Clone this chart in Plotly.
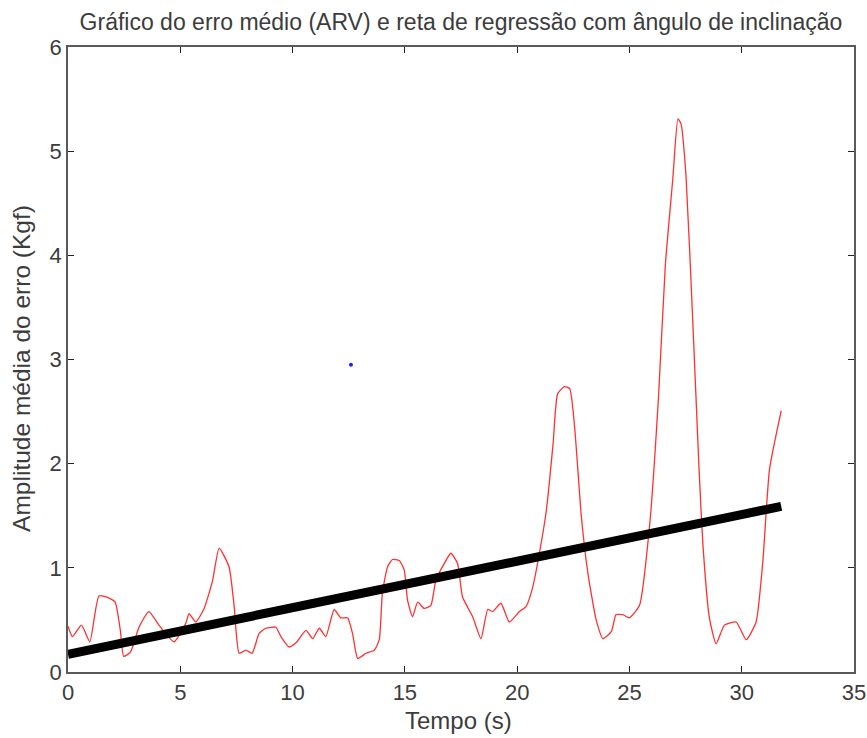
import plotly.graph_objects as go

# Mean error (ARV) over time, seconds vs Kgf
tempo = [0.0, 0.2, 0.6, 0.97, 1.38, 1.83, 2.1, 2.33, 2.48, 2.78, 3.16, 3.6, 4.05, 4.72,
         5.25, 5.39, 5.69, 6.06, 6.43, 6.73, 7.17, 7.40, 7.62, 7.92, 8.2, 8.51, 8.81,
         9.25, 9.48, 9.85, 10.15, 10.6, 10.89, 11.19, 11.48, 11.85, 12.15, 12.45, 12.67,
         12.9, 13.27, 13.64, 13.86, 14.0, 14.23, 14.45, 14.75, 14.97, 15.12, 15.34,
         15.57, 15.86, 16.16, 16.38, 16.75, 17.05, 17.35, 17.57, 18.02, 18.39, 18.69,
         18.91, 19.28, 19.65, 20.1, 20.4, 20.7, 20.99, 21.3, 21.6, 21.8, 22.1, 22.34,
         22.56, 22.86, 23.15, 23.52, 23.82, 24.2, 24.4, 24.7, 25.0, 25.45, 25.9, 26.3,
         26.6, 26.93, 27.16, 27.3, 27.52, 27.82, 28.1, 28.27, 28.56, 28.86, 29.23,
         29.75, 30.2, 30.64, 30.94, 31.24, 31.76]
erro_medio = [0.44, 0.34, 0.45, 0.29, 0.73, 0.71, 0.67, 0.40, 0.15, 0.19, 0.43, 0.58, 0.45,
              0.29, 0.47, 0.56, 0.48, 0.61, 0.87, 1.19, 1.01, 0.63, 0.18, 0.21, 0.18, 0.37,
              0.42, 0.43, 0.34, 0.24, 0.28, 0.40, 0.32, 0.42, 0.34, 0.60, 0.52, 0.52, 0.37,
              0.13, 0.18, 0.21, 0.31, 0.76, 1.01, 1.08, 1.07, 0.98, 0.69, 0.53, 0.67, 0.61,
              0.64, 0.88, 1.04, 1.14, 1.04, 0.72, 0.53, 0.32, 0.60, 0.58, 0.66, 0.48, 0.58,
              0.63, 0.82, 1.14, 1.55, 2.19, 2.67, 2.74, 2.72, 2.35, 1.49, 0.95, 0.50, 0.32,
              0.39, 0.55, 0.55, 0.52, 0.64, 1.41, 2.66, 3.91, 4.73, 5.31, 5.26, 4.76, 3.37,
              1.95, 1.23, 0.52, 0.27, 0.45, 0.48, 0.31, 0.48, 1.06, 1.95, 2.51]

# Regression line endpoints
reta_t = [0.0, 31.76]
reta_y = [0.17, 1.59]

# Single marked point
ponto_t = [12.6]
ponto_y = [2.95]

x_ticks = [0, 5, 10, 15, 20, 25, 30, 35]
y_ticks = [0, 1, 2, 3, 4, 5, 6]

font_family = "Liberation Sans, Arial, sans-serif"
axis_color = "#5a5a5a"
text_color = "#3c3c3c"

fig = go.Figure()
fig.add_trace(go.Scatter(x=tempo, y=erro_medio, mode="lines",
                         line=dict(color="#ff3030", width=1.3, shape="spline", smoothing=0.5),
                         hoverinfo="skip"))
fig.add_trace(go.Scatter(x=reta_t, y=reta_y, mode="lines",
                         line=dict(color="black", width=9), hoverinfo="skip"))
fig.add_trace(go.Scatter(x=ponto_t, y=ponto_y, mode="markers",
                         marker=dict(color="#2020ff", size=4), hoverinfo="skip"))

axis_common = dict(
    showgrid=False, zeroline=False, showline=True, linecolor=axis_color, linewidth=1.5,
    mirror="ticks", ticks="inside", ticklen=6, tickwidth=1.2, tickcolor="#222",
    automargin=False,
    tickfont=dict(family=font_family, size=22, color=text_color),
)

fig.update_layout(
    width=867, height=738,
    margin=dict(l=68, r=13, t=47, b=66),
    paper_bgcolor="white", plot_bgcolor="white",
    showlegend=False,
    title=dict(text="Gráfico do erro médio (ARV) e reta de regressão com ângulo de inclinação",
               x=0.5, xanchor="center", y=0.97, yanchor="middle",
               xref="paper",
               font=dict(family=font_family, size=23, color=text_color)),
    xaxis=dict(range=[0, 35], tickvals=x_ticks, **axis_common),
    yaxis=dict(range=[0, 6], tickvals=y_ticks, **axis_common),
    annotations=[
        dict(text="Tempo (s)", xref="paper", yref="paper", x=0.497, y=-0.077,
             xanchor="center", yanchor="middle", showarrow=False,
             font=dict(family=font_family, size=24, color=text_color)),
        dict(text="Amplitude média do erro (Kgf)", xref="paper", yref="paper",
             x=-0.059, y=0.486, xanchor="center", yanchor="middle", textangle=-90,
             showarrow=False,
             font=dict(family=font_family, size=24.5, color=text_color)),
    ],
)

fig.write_html("out.html")
